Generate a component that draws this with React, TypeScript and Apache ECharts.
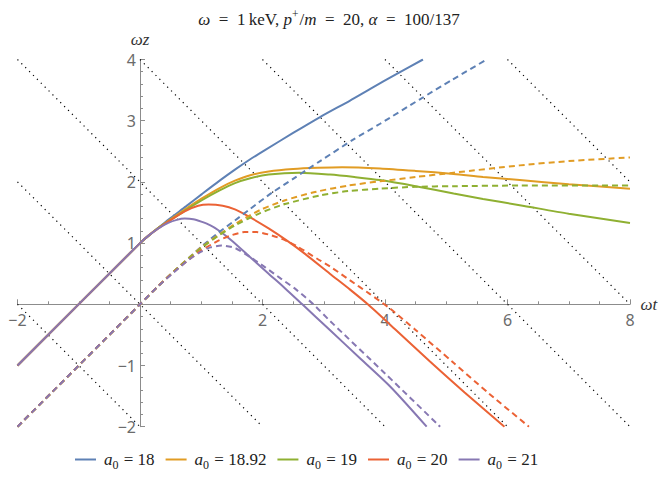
import React, { useEffect, useRef } from "react";
import * as echarts from "echarts";

const a0Labels = ["18", "18.92", "19", "20", "21"];
const colors = ["#5E81B5", "#E19C24", "#8FB032", "#EB6235", "#8778B3"];

// solid curves [ωt, ωz]
const solid18 = [[-2,-1],[0,1],[0.15,1.13],[0.3,1.25],[0.46,1.38],[0.75,1.6],[1.01,1.8],[1.3,2.02],[1.55,2.2],[1.8,2.37],[2.04,2.52],[2.5,2.8],[2.94,3.06],[3.43,3.33],[3.76,3.52],[4.2,3.77],[4.62,4.0]];
const solid1892 = [[-2,-1],[0,1],[0.15,1.13],[0.3,1.25],[0.46,1.36],[0.75,1.56],[1.01,1.73],[1.3,1.9],[1.55,2.02],[1.8,2.11],[2.1,2.17],[2.5,2.21],[2.9,2.23],[3.3,2.24],[3.92,2.22],[4.5,2.18],[5.12,2.13],[5.6,2.08],[6.2,2.03],[7,1.96],[8,1.89]];
const solid19 = [[-2,-1],[0,1],[0.15,1.13],[0.3,1.25],[0.46,1.35],[0.75,1.54],[1.01,1.7],[1.3,1.86],[1.55,1.98],[1.8,2.06],[2.1,2.12],[2.6,2.15],[3.1,2.12],[3.5,2.08],[3.92,2.03],[4.5,1.93],[5.12,1.81],[5.6,1.72],[6.2,1.62],[7,1.48],[8,1.33]];
const solid20 = [[-2,-1],[0,1],[0.15,1.13],[0.3,1.24],[0.46,1.35],[0.73,1.52],[0.95,1.61],[1.12,1.63],[1.35,1.61],[1.55,1.55],[1.8,1.42],[2.1,1.24],[2.4,1.04],[2.7,0.82],[3.1,0.5],[3.43,0.24],[3.72,0],[4.2,-0.44],[4.73,-0.93],[5.3,-1.44],[5.95,-2]];
const solid21 = [[-2,-1],[0,1],[0.15,1.13],[0.3,1.24],[0.46,1.33],[0.6,1.38],[0.73,1.4],[0.87,1.39],[1.0,1.35],[1.15,1.29],[1.28,1.21],[1.5,1.04],[1.8,0.77],[2.1,0.5],[2.37,0.26],[2.65,0],[3.1,-0.42],[3.6,-0.89],[4.1,-1.36],[4.68,-2]];

// dashed curves [ωt, ωz]
const dashed18 = [[-2,-2],[0,0],[0.3,0.3],[0.6,0.58],[1.0,0.94],[1.28,1.17],[1.55,1.37],[1.8,1.56],[2.15,1.82],[2.5,2.05],[2.94,2.34],[3.48,2.69],[3.92,2.95],[4.57,3.35],[5.1,3.67],[5.66,4.0]];
const dashed1892 = [[-2,-2],[0,0],[0.3,0.3],[0.6,0.58],[1.0,0.93],[1.28,1.13],[1.55,1.31],[1.96,1.54],[2.37,1.7],[2.88,1.84],[3.4,1.94],[3.92,2.01],[4.5,2.08],[5.12,2.15],[6.2,2.27],[7,2.34],[8,2.4]];
const dashed19 = [[-2,-2],[0,0],[0.3,0.3],[0.6,0.58],[1.0,0.92],[1.28,1.12],[1.55,1.29],[1.96,1.49],[2.34,1.63],[2.94,1.78],[3.4,1.85],[3.92,1.89],[4.5,1.92],[5.12,1.93],[6.2,1.94],[8,1.94]];
const dashed20 = [[-2,-2],[0,0],[0.3,0.3],[0.6,0.57],[0.85,0.77],[1.0,0.88],[1.28,1.04],[1.5,1.13],[1.71,1.18],[1.9,1.18],[2.1,1.14],[2.34,1.06],[2.56,0.95],[2.9,0.74],[3.1,0.62],[3.43,0.39],[3.75,0.17],[4.07,-0.06],[4.5,-0.42],[5.1,-0.94],[5.7,-1.46],[6.35,-2]];
const dashed21 = [[-2,-2],[0,0],[0.3,0.3],[0.55,0.52],[0.8,0.73],[1.0,0.86],[1.15,0.93],[1.33,0.96],[1.55,0.92],[1.8,0.77],[2.05,0.6],[2.3,0.42],[2.55,0.24],[2.83,0],[3.1,-0.27],[4.0,-1.13],[4.9,-2]];

// dotted guide lines ωt + ωz = const
const dottedConsts = [-2, 0, 2, 4, 6, 8, 10];

const xMin = -2, xMax = 8, yMin = -2, yMax = 4;

const SERIF = "'Liberation Serif', 'DejaVu Serif', serif";
const SANS = "'Noto Sans', 'Open Sans', sans-serif";

const W = 658, H = 477;
const gridL = 17.5, gridR = 28, gridT = 59.5, gridB = 50.3;

export default function App() {
  const ref = useRef<HTMLDivElement>(null);
  useEffect(() => {
    if (!ref.current) return;
    const chart = echarts.init(ref.current, undefined, { renderer: "svg" });
    const solids = [solid18, solid1892, solid19, solid20, solid21];
    const dashes = [dashed18, dashed1892, dashed19, dashed20, dashed21];

    const plotW = W - gridL - gridR;
    const plotH = H - gridT - gridB;
    const yAxisOffset = -((0 - xMin) / (xMax - xMin)) * plotW;
    const xAxisOffset = -((0 - yMin) / (yMax - yMin)) * plotH;

    const dotted = dottedConsts.map((c) => {
      const t1 = Math.max(xMin, c - yMax);
      const t2 = Math.min(xMax, c - yMin);
      return {
        type: "line",
        name: "guide" + c,
        data: [[t1, c - t1], [t2, c - t2]],
        symbol: "none",
        silent: true,
        lineStyle: { color: "#000", width: 1.2, type: [1.2, 4.3] },
        z: 1,
      };
    });

    const solidSeries = solids.map((d, i) => ({
      type: "line",
      name: a0Labels[i],
      data: d,
      symbol: "none",
      smooth: 0.25,
      lineStyle: { color: colors[i], width: 2 },
      itemStyle: { color: colors[i] },
      z: 3,
    }));
    const dashedSeries = dashes.map((d, i) => ({
      type: "line",
      name: a0Labels[i] + " (dashed)",
      data: d,
      symbol: "none",
      smooth: 0.25,
      lineStyle: { color: colors[i], width: 2, type: [6, 4] },
      itemStyle: { color: colors[i] },
      z: 3,
    }));

    const fmt = (v: number) => (v === 0 ? "" : v < 0 ? "\u2212" + Math.abs(v) : String(v));
    const axisColor = "#8c8c8c";

    chart.setOption({
      animation: false,
      title: {
        text: "{i|ω}{r|\u2002=\u20021\u2009keV, }{i|p}{sup|+}{r|/}{i|m}{r|\u2002=\u200220, }{i|α}{r|\u2002=\u2002100/137}",
        left: "center",
        top: 3,
        textStyle: {
          fontWeight: "normal",
          rich: {
            i: { fontFamily: SERIF, fontStyle: "italic", fontWeight: "normal", fontSize: 17, color: "#222", lineHeight: 22 },
            r: { fontFamily: SERIF, fontWeight: "normal", fontSize: 17, color: "#222", lineHeight: 22 },
            sup: { fontFamily: SERIF, fontWeight: "normal", fontSize: 11.5, color: "#222", verticalAlign: "top", lineHeight: 22, padding: [0, 1, 9, 0] },
          },
        },
      },
      legend: {
        data: a0Labels,
        left: 75,
        top: 451,
        padding: 0,
        icon: "rect",
        itemWidth: 21,
        itemHeight: 2,
        itemGap: 11,
        formatter: (name: string) => `{a|a}{s|0}{e| = ${name}}`,
        textStyle: {
          rich: {
            a: { fontFamily: SERIF, fontStyle: "italic", fontSize: 17, color: "#222", lineHeight: 22, padding: [0, 0, 0, 3] },
            s: { fontFamily: SERIF, fontSize: 12, color: "#222", verticalAlign: "bottom", lineHeight: 22, padding: [6, 1, 0, 0] },
            e: { fontFamily: SERIF, fontSize: 17, color: "#222", lineHeight: 22 },
          },
        },
      },
      grid: { left: gridL, right: gridR, top: gridT, bottom: gridB, containLabel: false, outerBoundsMode: "none" },
      xAxis: {
        type: "value",
        min: xMin,
        max: xMax,
        interval: 2,
        offset: xAxisOffset,
        name: "ωt",
        nameLocation: "end",
        nameGap: 9,
        nameTextStyle: { fontFamily: SERIF, fontStyle: "italic", fontSize: 17, color: "#333", padding: [0, 0, 6, 0] },
        axisLine: { onZero: false, lineStyle: { color: axisColor, width: 1 } },
        axisTick: { inside: true, length: 5, lineStyle: { color: axisColor } },
        minorTick: { show: true, splitNumber: 4, length: 3, lineStyle: { color: axisColor } },
        splitLine: { show: false },
        axisLabel: { formatter: fmt, color: "#6b6b6b", fontSize: 16, fontFamily: SANS, margin: 8 },
      },
      yAxis: {
        type: "value",
        min: yMin,
        max: yMax,
        interval: 1,
        offset: yAxisOffset,
        name: "ωz",
        nameLocation: "end",
        nameGap: 12,
        nameTextStyle: { fontFamily: SERIF, fontStyle: "italic", fontSize: 17, color: "#333", align: "center" },
        axisLine: { onZero: false, lineStyle: { color: axisColor, width: 1 } },
        axisTick: { inside: true, length: 5, lineStyle: { color: axisColor } },
        minorTick: { show: true, splitNumber: 5, length: 3, lineStyle: { color: axisColor } },
        splitLine: { show: false },
        axisLabel: { formatter: fmt, color: "#6b6b6b", fontSize: 16, fontFamily: SANS, margin: 4, padding: [5, 0, 0, 0] },
      },
      series: [...dotted, ...solidSeries, ...dashedSeries],
    });
    return () => chart.dispose();
  }, []);
  return (
    <div
      ref={ref}
      style={{ position: "fixed", left: 0, top: 0, width: W, height: H, background: "#fff" }}
    />
  );
}
